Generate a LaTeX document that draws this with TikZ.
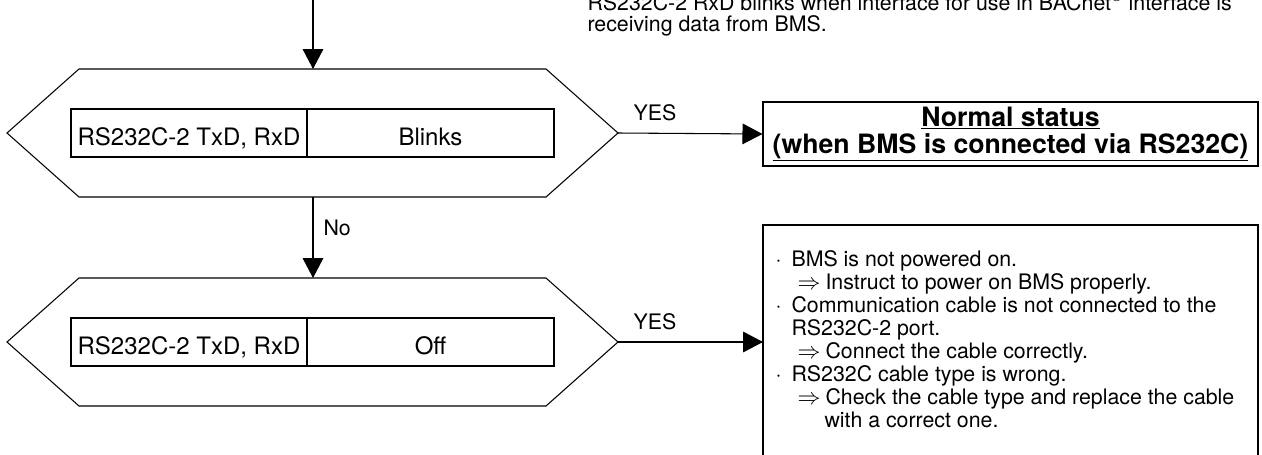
\documentclass[tikz,border=0pt]{standalone}
\usepackage{fontspec}
\setmainfont{TeX Gyre Heros}
\usetikzlibrary{arrows.meta}
\begin{document}
\begin{tikzpicture}[x=0.75pt,y=-0.75pt,line width=0.8pt,
  conn/.style={-{Triangle[length=15pt,width=15.5pt]}},
  hexshape/.style={draw},
  cell/.style={draw,minimum height=36pt,inner sep=0pt,text height=18pt,text depth=0pt,
    font=\fontsize{18}{21}\selectfont},
  lbl/.style={inner sep=0pt,anchor=base west,font=\fontsize{16}{19}\selectfont},
  yeslbl/.style={inner sep=0pt,anchor=base,font=\fontsize{16}{19}\selectfont},
  resultbox/.style={draw,minimum width=371.25pt,minimum height=48pt,inner sep=0pt,align=center,
    font=\fontsize{20}{20}\bfseries}]
\useasboundingbox (0,0) rectangle (1262,454);
\clip (0,0) rectangle (1262,454);

% top note
\node[lbl] (note1) at (587,10) {RS232C-2 RxD blinks when interface for use in BACnet\textsuperscript{®} interface is};
\node[lbl] (note2) at (587,31) {receiving data from BMS.};

% decision 1
\draw[hexshape] (79,69) -- (546,69) -- (618,133) -- (546,197) -- (79,197) -- (7,133) -- cycle;
\coordinate (h1t) at (313,69);
\coordinate (h1r) at (618,133);
\coordinate (h1b) at (313,197);
\node[cell,minimum width=177pt] (c1a) at (189,133) {RS232C-2 TxD, RxD};
\node[cell,minimum width=185.25pt] (c1b) at (430.5,133) {Blinks};

% decision 2
\draw[hexshape] (79,278) -- (546,278) -- (618,342) -- (546,406) -- (79,406) -- (7,342) -- cycle;
\coordinate (h2t) at (313,278);
\coordinate (h2r) at (618,342);
\node[cell,minimum width=177pt] (c2a) at (189,342) {RS232C-2 TxD, RxD};
\node[cell,minimum width=185.25pt] (c2b) at (430.5,342) {Off};

% incoming arrow
\coordinate (in) at (313,-5);
\draw[conn] (in) -- (h1t);
\draw[conn] (h1b) -- (h2t);
\node[lbl] (no) at (323,235) {No};

% result 1
\node[resultbox] (res1) at (1010.5,134) {\underline{Normal status}\\[0pt]\underline{(when BMS is connected via RS232C)}};
\draw[conn] (h1r) -- (res1.west);
\node[yeslbl] (yes1) at (655,120) {YES};

% result 2 (box continues below the picture)
\coordinate (r2tl) at (763,225);
\coordinate (r2tr) at (1258,225);
\coordinate (r2in) at (763,342);
\draw (763,470) -- (r2tl) -- (r2tr) -- (1258,470);
\draw[conn] (h2r) -- (r2in);
\node[yeslbl] (yes2) at (655,329) {YES};

\node[lbl] (t1) at (775,266.0) {\makebox[12pt][l]{·}BMS is not powered on.};
\node[lbl] (t2) at (775,289.1) {\hspace*{16.5pt}\makebox[21pt][l]{$\Rightarrow$}Instruct to power on BMS properly.};
\node[lbl] (t3) at (775,312.2) {\makebox[12pt][l]{·}Communication cable is not connected to the};
\node[lbl] (t4) at (775,335.3) {\hspace*{12pt}RS232C-2 port.};
\node[lbl] (t5) at (775,358.4) {\hspace*{16.5pt}\makebox[21pt][l]{$\Rightarrow$}Connect the cable correctly.};
\node[lbl] (t6) at (775,381.5) {\makebox[12pt][l]{·}RS232C cable type is wrong.};
\node[lbl] (t7) at (775,404.6) {\hspace*{16.5pt}\makebox[21pt][l]{$\Rightarrow$}Check the cable type and replace the cable};
\node[lbl] (t8) at (775,427.7) {\hspace*{36.75pt}with a correct one.};
\end{tikzpicture}
\end{document}
